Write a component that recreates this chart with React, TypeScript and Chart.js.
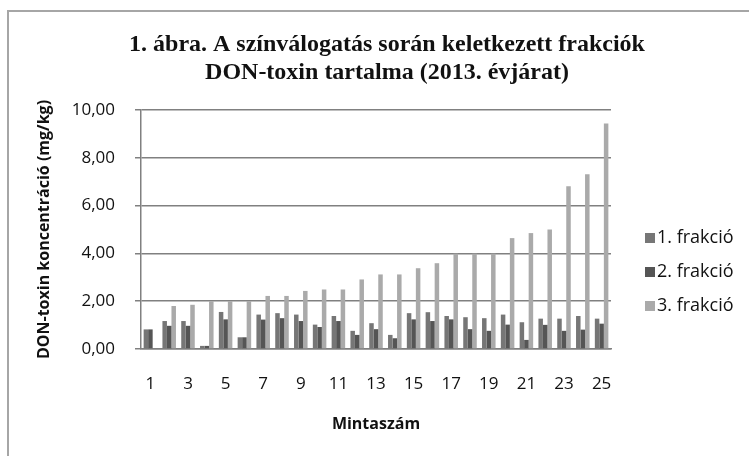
import React, { useEffect, useRef } from "react";
import { Chart, registerables } from "chart.js";

Chart.register(...registerables);

const categories = ["1","2","3","4","5","6","7","8","9","10","11","12","13","14","15","16","17","18","19","20","21","22","23","24","25"];
const frakcio1 = [0.82,1.17,1.17,0.13,1.55,0.49,1.44,1.50,1.44,1.02,1.38,0.76,1.08,0.59,1.50,1.54,1.38,1.33,1.29,1.44,1.12,1.27,1.27,1.38,1.27];
const frakcio2 = [0.82,0.97,0.97,0.13,1.24,0.49,1.23,1.29,1.17,0.92,1.17,0.59,0.83,0.45,1.24,1.17,1.24,0.83,0.76,1.02,0.38,1.01,0.76,0.81,1.06];
const frakcio3 = [0,1.80,1.85,2.00,2.00,2.00,2.22,2.22,2.43,2.49,2.49,2.91,3.12,3.12,3.38,3.59,3.99,3.99,3.99,4.64,4.85,5.00,6.81,7.31,9.43];
const seriesLabels = ["1. frakció", "2. frakció", "3. frakció"];
const seriesColors = ["#767676", "#555555", "#aaaaaa"];
const titleLines = ["1. ábra. A színválogatás során keletkezett frakciók", "DON-toxin tartalma (2013. évjárat)"];

const decorPlugin = {
  id: "decor",
  beforeDraw(chart: any) {
    const ctx = chart.ctx;
    ctx.save();
    ctx.fillStyle = "#ffffff";
    ctx.fillRect(0, 0, chart.width, chart.height);
    ctx.strokeStyle = "#a6a6a6";
    ctx.lineWidth = 2;
    ctx.beginPath();
    ctx.moveTo(8, chart.height);
    ctx.lineTo(8, 11);
    ctx.lineTo(chart.width, 11);
    ctx.stroke();
    ctx.restore();
  },
  afterDraw(chart: any) {
    const ctx = chart.ctx;
    ctx.save();
    ctx.fillStyle = "#111111";
    ctx.font = "bold 24px 'Liberation Serif'";
    ctx.textAlign = "center";
    ctx.textBaseline = "middle";
    ctx.fillText(titleLines[0], 387, 45);
    ctx.fillText(titleLines[1], 387, 73);
    // legend
    ctx.font = "18px 'Open Sans'";
    ctx.textAlign = "left";
    chart.data.datasets.forEach((ds: any, i: number) => {
      const y = 238 + i * 34;
      ctx.fillStyle = ds.backgroundColor;
      ctx.fillRect(645, y - 5, 10, 10);
      ctx.fillStyle = "#111111";
      ctx.fillText(ds.label, 657, y);
    });
    ctx.restore();
  },
};

export default function App() {
  const ref = useRef<HTMLCanvasElement | null>(null);
  useEffect(() => {
    document.body.style.margin = "0";
    const chart = new Chart(ref.current as HTMLCanvasElement, {
      type: "bar",
      data: {
        labels: categories,
        datasets: [
          { label: seriesLabels[0], data: frakcio1, backgroundColor: seriesColors[0] },
          { label: seriesLabels[1], data: frakcio2, backgroundColor: seriesColors[1] },
          { label: seriesLabels[2], data: frakcio3, backgroundColor: seriesColors[2] },
        ],
      },
      options: {
        animation: false,
        responsive: false,
        devicePixelRatio: 1,
        layout: { padding: { top: 110, right: 138, bottom: 0, left: 0 } },
        datasets: { bar: { categoryPercentage: 0.72, barPercentage: 1 } },
        plugins: { legend: { display: false }, title: { display: false }, tooltip: { enabled: false } },
        scales: {
          x: {
            grid: { display: false },
            border: { display: true, color: "#808080", width: 1.5 },
            ticks: {
              autoSkip: false,
              maxRotation: 0,
              padding: 17,
              color: "#111111",
              font: { family: "'Open Sans'", size: 17 },
              callback: (_v: any, i: number) => (i % 2 === 0 ? categories[i] : ""),
            },
            title: {
              display: true,
              text: "Mintaszám",
              color: "#111111",
              font: { family: "'Open Sans'", size: 16, weight: "bold" },
              padding: { top: 4, bottom: 22 },
            },
            afterFit: (s: any) => { s.height = 107; },
          },
          y: {
            min: 0,
            max: 10,
            ticks: {
              stepSize: 2,
              padding: 20,
              color: "#111111",
              font: { family: "'Open Sans'", size: 17 },
              callback: (v: any) => Number(v).toFixed(2).replace(".", ","),
            },
            grid: { color: "#808080", lineWidth: 1.5, tickLength: 6 },
            border: { display: true, color: "#808080", width: 1.5 },
            title: {
              display: true,
              text: "DON-toxin koncentráció (mg/kg)",
              color: "#111111",
              font: { family: "'Open Sans'", size: 16, weight: "bold" },
              padding: { top: 35, bottom: 0 },
            },
            afterFit: (s: any) => { s.width = 141; },
          },
        },
      },
      plugins: [decorPlugin],
    });
    return () => chart.destroy();
  }, []);
  return (
    <div style={{ width: 749, height: 456 }}>
      <canvas ref={ref} width={749} height={456} style={{ display: "block" }} />
    </div>
  );
}
